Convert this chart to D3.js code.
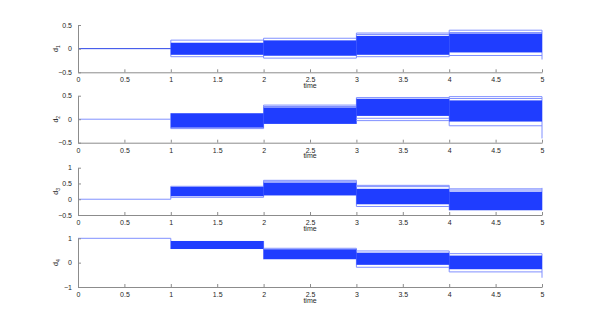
<html>
<head>
<meta charset="utf-8">
<script src="https://cdn.jsdelivr.net/npm/d3@7"></script>
<style>
  body { margin: 0; background: #fff; }
  text { font-family: "Liberation Sans", Arial, sans-serif; fill: #262626; }
</style>
</head>
<body>
<svg id="chart" width="599" height="326"></svg>
<script>
// tick labels on the time axis
var timeTicks = [0, 0.5, 1, 1.5, 2, 2.5, 3, 3.5, 4, 4.5, 5];

// one entry per subplot
var names = ["1", "2", "3", "4"];
var yDomains = [[-0.5, 0.5], [-0.5, 0.5], [-0.5, 1], [-1, 1]];
var yTicks = [[-0.5, 0, 0.5], [-0.5, 0, 0.5], [-0.5, 0, 0.5, 1], [-1, 0, 1]];

// value on [0,1]
var startValues = [0, 0, 0, 1];
// dense band of trajectories on [1,2],[2,3],[3,4],[4,5]
var coreHi = [
  [0.125, 0.175, 0.27, 0.32],
  [0.127, 0.25, 0.435, 0.40],
  [0.39, 0.53, 0.33, 0.24],
  [0.89, 0.55, 0.41, 0.29]
];
var coreLo = [
  [-0.13, -0.15, -0.13, -0.08],
  [-0.18, -0.10, 0.07, -0.05],
  [0.095, 0.12, -0.16, -0.35],
  [0.56, 0.14, -0.09, -0.27]
];
// single outlying trajectories in each interval
var outliers = [
  [[0.18, -0.17], [0.22, -0.2], [0.33, 0.30, -0.17], [0.39, 0.34, -0.145]],
  [[-0.2], [0.30, 0.27], [0.46, 0.02, -0.03], [0.48, 0.44, -0.14]],
  [[0.41, 0.06], [0.60, 0.57], [0.44, 0.40, -0.23], [0.33, 0.29]],
  [[0.59], [0.59], [0.48, -0.19], [0.37, -0.38]]
];
// value the last step drops to at t = 5
var endValues = [-0.23, -0.41, 0.36, -0.62];

var svg = d3.select("#chart");
var dark = "#1f3dff", light = "#8090ff", axisCol = "#8c8c8c";

var x = d3.scaleLinear().domain([0, 5]).range([78, 542]);
var tops = [25, 95.7, 167.7, 238.3];
var bottoms = [72.3, 142.7, 215, 287];

names.forEach(function(nm, p) {
  var y = d3.scaleLinear().domain(yDomains[p]).range([bottoms[p], tops[p]]);
  var g = svg.append("g");

  // extents per interval (for vertical steps)
  var ext = [[startValues[p], startValues[p]]];
  for (var k = 0; k < 4; k++) {
    var vals = [coreHi[p][k], coreLo[p][k]].concat(outliers[p][k]);
    ext.push([d3.min(vals), d3.max(vals)]);
  }

  // vertical steps at t = 1..4
  for (var k = 1; k <= 4; k++) {
    var lo = Math.min(ext[k - 1][0], ext[k][0]), hi = Math.max(ext[k - 1][1], ext[k][1]);
    g.append("line").attr("x1", x(k)).attr("x2", x(k))
      .attr("y1", y(lo)).attr("y2", y(hi))
      .attr("stroke", light).attr("stroke-width", 1);
  }
  // final step at t = 5
  g.append("line").attr("x1", x(5)).attr("x2", x(5))
    .attr("y1", y(Math.min(ext[4][0], endValues[p]))).attr("y2", y(Math.max(ext[4][1], endValues[p])))
    .attr("stroke", light).attr("stroke-width", 1);

  // first interval
  g.append("line").attr("x1", x(0)).attr("x2", x(1))
    .attr("y1", y(startValues[p])).attr("y2", y(startValues[p]))
    .attr("stroke", p === 0 ? "#2a44e8" : light).attr("stroke-width", 1);

  for (var k = 0; k < 4; k++) {
    outliers[p][k].forEach(function(v) {
      g.append("line").attr("x1", x(k + 1)).attr("x2", x(k + 2))
        .attr("y1", y(v)).attr("y2", y(v))
        .attr("stroke", light).attr("stroke-width", 1);
    });
    g.append("rect")
      .attr("x", x(k + 1)).attr("width", x(k + 2) - x(k + 1))
      .attr("y", y(coreHi[p][k])).attr("height", y(coreLo[p][k]) - y(coreHi[p][k]))
      .attr("fill", dark);
  }

  // axes, MATLAB style: ticks point inward
  var xAxis = g.append("g").attr("transform", "translate(0," + bottoms[p] + ")")
    .call(d3.axisBottom(x).tickValues(timeTicks).tickSizeInner(-3).tickSizeOuter(0).tickPadding(5)
      .tickFormat(d3.format("")));
  var yAxis = g.append("g").attr("transform", "translate(" + x(0) + ",0)")
    .call(d3.axisLeft(y).tickValues(yTicks[p]).tickSizeInner(-3).tickSizeOuter(0).tickPadding(6)
      .tickFormat(d3.format("")));
  [xAxis, yAxis].forEach(function(a) {
    a.select(".domain").attr("stroke", axisCol);
    a.selectAll(".tick line").attr("stroke", axisCol);
    a.selectAll("text").attr("font-size", 7).style("font-family", "'Liberation Sans', Arial, sans-serif").attr("fill", "#262626");
  });

  g.append("text").attr("x", x(2.5)).attr("y", bottoms[p] + 15.5)
    .attr("text-anchor", "middle").attr("font-size", 7).text("time");

  var lab = g.append("text")
    .attr("transform", "translate(58," + ((tops[p] + bottoms[p]) / 2) + ") rotate(-90)")
    .attr("text-anchor", "middle").attr("font-size", 7);
  lab.append("tspan").text("d");
  lab.append("tspan").attr("font-size", 5).attr("dy", 2).text(nm);
});
</script>
</body>
</html>
